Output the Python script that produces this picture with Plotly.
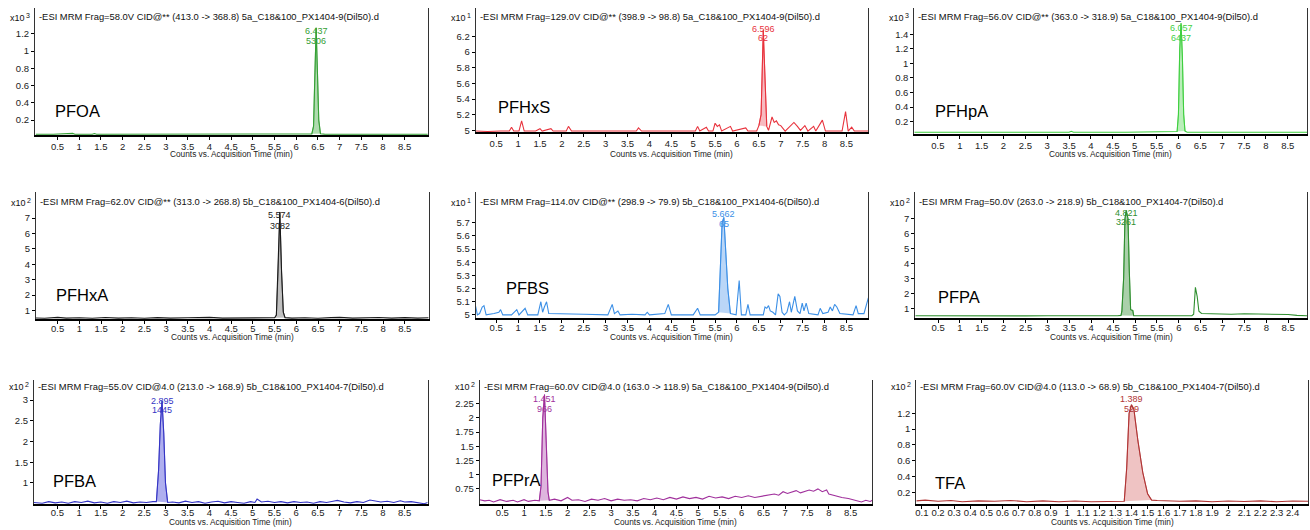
import numpy as np
import plotly.graph_objects as go

W, H = 1310, 530
FONT = "Liberation Sans, Arial, Helvetica, sans-serif"

# ---------------- data ----------------
compounds = ["PFOA", "PFHxS", "PFHpA", "PFHxA", "PFBS", "PFPA", "PFBA", "PFPrA", "TFA"]
headers = [
    "-ESI MRM Frag=58.0V CID@** (413.0 -> 368.8) 5a_C18&100_PX1404-9(Dil50).d",
    "-ESI MRM Frag=129.0V CID@** (398.9 -> 98.8) 5a_C18&100_PX1404-9(Dil50).d",
    "-ESI MRM Frag=56.0V CID@** (363.0 -> 318.9) 5a_C18&100_PX1404-9(Dil50).d",
    "-ESI MRM Frag=62.0V CID@** (313.0 -> 268.8) 5b_C18&100_PX1404-6(Dil50).d",
    "-ESI MRM Frag=114.0V CID@** (298.9 -> 79.9) 5b_C18&100_PX1404-6(Dil50).d",
    "-ESI MRM Frag=50.0V (263.0 -> 218.9) 5b_C18&100_PX1404-7(Dil50).d",
    "-ESI MRM Frag=55.0V CID@4.0 (213.0 -> 168.9) 5b_C18&100_PX1404-7(Dil50).d",
    "-ESI MRM Frag=60.0V CID@4.0 (163.0 -> 118.9) 5a_C18&100_PX1404-9(Dil50).d",
    "-ESI MRM Frag=60.0V CID@4.0 (113.0 -> 68.9) 5b_C18&100_PX1404-7(Dil50).d",
]
rt_labels = ["6.437", "6.596", "6.057", "5.574", "5.662", "4.821", "2.895", "1.451", "1.389"]
area_labels = ["5306", "62", "6437", "3082", "65", "3261", "1445", "966", "529"]
exponents = ["3", "1", "3", "2", "1", "2", "2", "2", "2"]
x_axis_title = "Counts vs. Acquisition Time (min)"

x_ticks_9min = [0.5, 1, 1.5, 2, 2.5, 3, 3.5, 4, 4.5, 5, 5.5, 6, 6.5, 7, 7.5, 8, 8.5]
x_ticks_tfa = [0.1, 0.2, 0.3, 0.4, 0.5, 0.6, 0.7, 0.8, 0.9, 1, 1.1, 1.2, 1.3, 1.4, 1.5,
               1.6, 1.7, 1.8, 1.9, 2, 2.1, 2.2, 2.3, 2.4]

y_ticks_pfoa = [0.2, 0.4, 0.6, 0.8, 1, 1.2]
y_ticks_pfhxs = [5, 5.2, 5.4, 5.6, 5.8, 6, 6.2]
y_ticks_pfhpa = [0.2, 0.4, 0.6, 0.8, 1, 1.2, 1.4]
y_ticks_pfhxa = [1, 2, 3, 4, 5, 6, 7]
y_ticks_pfbs = [5, 5.1, 5.2, 5.3, 5.4, 5.5, 5.6, 5.7]
y_ticks_pfpa = [1, 2, 3, 4, 5, 6, 7]
y_ticks_pfba = [1, 1.5, 2, 2.5, 3]
y_ticks_pfpra = [0.75, 1, 1.25, 1.5, 1.75, 2, 2.25]
y_ticks_tfa = [0.2, 0.4, 0.6, 0.8, 1, 1.2]

# integration windows (min)
windows = [[6.36, 6.56], [6.5, 6.68], [5.97, 6.15], [5.5, 5.74], [5.58, 5.85],
           [4.68, 4.97], [2.78, 3.04], [1.35, 1.58], [1.355, 1.525]]

pfoa_t = [0, 0.4, 0.85, 0.9, 1.3, 1.35, 1.4, 1.8, 1.85, 2.0, 2.05, 2.3, 2.35, 2.8, 3.4, 3.45,
          3.9, 4.4, 4.45, 5.0, 5.5, 5.55, 6.0, 6.25, 6.36, 6.40, 6.43, 6.46, 6.49, 6.52, 6.56,
          6.65, 7.0, 7.5, 7.55, 7.7, 8.0, 8.05, 8.3, 8.7, 9.05]
pfoa_y = [0.035, 0.035, 0.045, 0.035, 0.035, 0.043, 0.035, 0.035, 0.042, 0.035, 0.04, 0.035,
          0.04, 0.035, 0.035, 0.04, 0.035, 0.035, 0.04, 0.035, 0.035, 0.038, 0.035, 0.037,
          0.04, 0.13, 0.75, 1.27, 0.75, 0.2, 0.04, 0.037, 0.035, 0.035, 0.04, 0.035, 0.035,
          0.04, 0.035, 0.04, 0.035]

pfhxs_t = [0.03, 0.3, 0.6, 0.8, 0.85, 0.9, 1.02, 1.08, 1.14, 1.4, 1.5, 1.55, 1.75, 1.8, 2.1,
           2.15, 2.22, 2.6, 3.0, 3.7, 3.75, 3.82, 4.3, 4.8, 5.05, 5.1, 5.15, 5.3, 5.35, 5.45,
           5.5, 5.55, 5.6, 5.65, 5.85, 5.9, 6.2, 6.25, 6.45, 6.5, 6.55, 6.6, 6.64, 6.68, 6.72,
           6.8, 6.85, 6.9, 6.95, 7.0, 7.1, 7.3, 7.38, 7.45, 7.55, 7.62, 7.75, 7.8, 7.95, 8.02,
           8.4, 8.48, 8.54, 8.62, 8.68, 9.0]
pfhxs_y = [4.99, 4.985, 4.99, 4.99, 5.04, 4.99, 4.99, 5.12, 4.99, 4.99, 5.02, 4.99, 5.02,
           4.99, 4.99, 5.05, 4.99, 4.99, 4.99, 4.99, 5.03, 4.99, 4.99, 4.99, 4.99, 5.05, 4.99,
           5.04, 4.99, 4.99, 5.09, 5.05, 5.07, 4.99, 5.05, 4.99, 5.03, 4.99, 4.99, 5.06, 5.2,
           6.28, 5.5, 5.05, 5.0, 5.17, 5.1, 5.12, 5.07, 5.06, 4.99, 5.1, 5.05, 5.0, 5.06, 4.99,
           5.05, 4.99, 5.13, 4.99, 4.99, 5.24, 4.99, 5.04, 4.99, 4.99]

pfhpa_t = [-0.04, 1.0, 2.25, 2.3, 2.35, 3.5, 3.55, 3.6, 4.8, 5.9, 5.97, 6.0, 6.03, 6.06, 6.09,
           6.12, 6.15, 6.2, 7.0, 8.5, 8.55, 8.6, 8.94]
pfhpa_y = [0.055, 0.055, 0.055, 0.065, 0.055, 0.055, 0.067, 0.055, 0.055, 0.055, 0.065, 0.3,
           1.2, 1.55, 1.1, 0.3, 0.07, 0.055, 0.055, 0.055, 0.065, 0.055, 0.055]

pfhxa_t = [0, 0.2, 0.5, 0.7, 1.0, 1.3, 1.6, 1.9, 2.2, 2.5, 2.8, 3.1, 3.5, 4.0, 4.3, 4.7, 5.0,
           5.3, 5.5, 5.54, 5.58, 5.62, 5.66, 5.7, 5.74, 5.9, 6.2, 6.5, 6.8, 7.0, 7.3, 7.6, 7.9,
           8.2, 8.5, 8.8, 9.05]
pfhxa_y = [0.52, 0.5, 0.56, 0.51, 0.53, 0.5, 0.55, 0.51, 0.53, 0.5, 0.54, 0.51, 0.53, 0.56,
           0.51, 0.53, 0.5, 0.53, 0.53, 0.7, 3.5, 7.4, 3.5, 0.9, 0.54, 0.51, 0.53, 0.5, 0.54,
           0.56, 0.51, 0.53, 0.55, 0.51, 0.54, 0.51, 0.53]

pfbs_t = [0.03, 0.07, 0.12, 0.18, 0.22, 0.27, 0.45, 0.56, 0.6, 0.65, 0.85, 0.93, 0.97, 1.02,
          1.1, 1.16, 1.22, 1.45, 1.52, 1.56, 1.6, 1.65, 1.7, 2.0, 2.5, 3.05, 3.1, 3.15, 3.2,
          3.25, 3.28, 3.33, 3.6, 3.9, 3.95, 4.0, 4.35, 4.43, 4.5, 5.0, 5.07, 5.1, 5.16, 5.5,
          5.58, 5.62, 5.66, 5.7, 5.74, 5.79, 5.85, 5.98, 6.05, 6.1, 6.2, 6.25, 6.3, 6.6, 6.64,
          6.68, 6.72, 6.76, 6.82, 6.88, 6.94, 6.98, 7.03, 7.08, 7.14, 7.2, 7.24, 7.32, 7.38,
          7.44, 7.49, 7.53, 7.58, 7.64, 7.85, 7.9, 7.96, 8.08, 8.13, 8.18, 8.23, 8.28, 8.35,
          8.65, 8.72, 8.77, 8.9, 9.0]
pfbs_y = [5.065, 5.0, 5.01, 5.06, 5.07, 5.0, 5.01, 5.02, 5.04, 5.0, 5.0, 5.03, 5.04, 5.0,
          5.03, 5.05, 5.0, 5.0, 5.1, 5.02, 5.06, 5.1, 5.01, 5.01, 5.005, 5.0, 5.04, 5.08, 5.01,
          5.02, 5.03, 5.0, 5.005, 5.0, 5.02, 5.0, 5.01, 5.08, 5.0, 5.0, 5.04, 5.05, 5.0, 5.0,
          5.02, 5.35, 5.7, 5.74, 5.5, 5.2, 5.01, 5.0, 5.26, 5.0, 5.0, 5.08, 5.0, 5.0, 5.06,
          5.05, 5.07, 5.03, 5.02, 5.0, 5.16, 5.14, 5.02, 5.0, 5.02, 5.1, 5.02, 5.14, 5.03,
          5.01, 5.09, 5.03, 5.09, 5.01, 5.0, 5.05, 5.01, 5.02, 5.06, 5.03, 5.08, 5.06, 5.01,
          5.0, 5.07, 5.01, 5.01, 5.13]

pfpa_t = [-0.02, 0.5, 1.0, 1.5, 2.0, 2.5, 3.0, 3.5, 4.0, 4.4, 4.6, 4.68, 4.7, 4.74, 4.77, 4.8,
          4.84, 4.87, 4.9, 4.95, 4.97, 5.2, 5.6, 6.0, 6.3, 6.34, 6.38, 6.42, 6.46, 6.52, 6.8,
          7.0, 7.2, 7.5, 7.7, 7.9, 8.1, 8.3, 8.5, 8.7, 8.93]
pfpa_y = [0.5, 0.49, 0.5, 0.48, 0.5, 0.49, 0.5, 0.49, 0.5, 0.5, 0.5, 0.52, 0.8, 3.0, 7.0, 7.55,
          7.0, 3.5, 0.9, 0.85, 0.5, 0.5, 0.49, 0.5, 0.5, 0.6, 2.4, 1.8, 0.8, 0.65, 0.62, 0.64,
          0.6, 0.63, 0.62, 0.64, 0.6, 0.62, 0.58, 0.52, 0.5]

pfba_t = [-0.04, 0.15, 0.3, 0.45, 0.6, 0.75, 0.9, 1.05, 1.2, 1.35, 1.5, 1.65, 1.8, 1.95, 2.1,
          2.25, 2.4, 2.55, 2.7, 2.78, 2.83, 2.87, 2.91, 2.95, 2.99, 3.04, 3.15, 3.3, 3.45, 3.6,
          3.75, 3.9, 4.05, 4.2, 4.35, 4.5, 4.65, 4.8, 4.95, 5.05, 5.1, 5.2, 5.35, 5.5, 5.65,
          5.8, 5.95, 6.1, 6.25, 6.4, 6.55, 6.7, 6.85, 6.95, 7.1, 7.25, 7.4, 7.55, 7.7, 7.8,
          7.95, 8.1, 8.25, 8.4, 8.5, 8.65, 8.8, 8.95, 9.03]
pfba_y = [0.53, 0.51, 0.55, 0.52, 0.54, 0.51, 0.55, 0.53, 0.56, 0.52, 0.54, 0.51, 0.55, 0.53,
          0.56, 0.52, 0.54, 0.53, 0.55, 0.55, 1.3, 2.4, 2.98, 2.2, 1.0, 0.53, 0.54, 0.52, 0.56,
          0.53, 0.55, 0.51, 0.54, 0.56, 0.52, 0.55, 0.53, 0.51, 0.55, 0.53, 0.61, 0.54, 0.56,
          0.53, 0.55, 0.52, 0.55, 0.53, 0.54, 0.51, 0.55, 0.53, 0.56, 0.58, 0.54, 0.52, 0.55,
          0.53, 0.59, 0.57, 0.54, 0.56, 0.53, 0.57, 0.54, 0.55, 0.52, 0.5, 0.53]

pfpra_t = [-0.02, 0.1, 0.2, 0.3, 0.45, 0.6, 0.75, 0.85, 1.0, 1.1, 1.25, 1.35, 1.39, 1.43, 1.47,
           1.51, 1.55, 1.58, 1.7, 1.85, 2.0, 2.1, 2.25, 2.4, 2.55, 2.7, 2.85, 3.0, 3.15, 3.3,
           3.45, 3.6, 3.75, 3.9, 4.05, 4.2, 4.35, 4.5, 4.65, 4.8, 4.95, 5.1, 5.25, 5.4, 5.55,
           5.7, 5.85, 6.0, 6.15, 6.3, 6.45, 6.6, 6.75, 6.85, 6.95, 7.05, 7.15, 7.25, 7.35, 7.45,
           7.55, 7.65, 7.75, 7.85, 7.95, 8.0, 8.1, 8.2, 8.3, 8.45, 8.55, 8.65, 8.75, 8.85, 8.95,
           9.0]
pfpra_y = [0.56, 0.54, 0.55, 0.52, 0.56, 0.53, 0.55, 0.52, 0.56, 0.53, 0.55, 0.54, 0.8, 2.0,
           2.41, 1.6, 0.7, 0.55, 0.57, 0.54, 0.6, 0.55, 0.56, 0.53, 0.57, 0.55, 0.58, 0.54,
           0.57, 0.55, 0.56, 0.54, 0.58, 0.56, 0.59, 0.56, 0.6, 0.57, 0.61, 0.58, 0.6, 0.57,
           0.62, 0.59, 0.61, 0.58, 0.62, 0.6, 0.63, 0.6, 0.62, 0.63, 0.66, 0.64, 0.7, 0.67,
           0.69, 0.72, 0.68, 0.71, 0.73, 0.71, 0.75, 0.7, 0.73, 0.66, 0.64, 0.61, 0.6, 0.58,
           0.56, 0.54, 0.52, 0.55, 0.53, 0.55]

tfa_t = [0.065, 0.12, 0.2, 0.28, 0.35, 0.45, 0.55, 0.65, 0.75, 0.85, 0.95, 1.05, 1.15, 1.25,
         1.32, 1.355, 1.37, 1.385, 1.40, 1.415, 1.44, 1.47, 1.50, 1.525, 1.56, 1.6, 1.7, 1.8,
         1.9, 2.0, 2.1, 2.2, 2.3, 2.4, 2.495]
tfa_y = [0.09, 0.1, 0.085, 0.095, 0.08, 0.09, 0.085, 0.095, 0.08, 0.09, 0.08, 0.088, 0.08,
         0.085, 0.08, 0.085, 0.5, 1.2, 1.31, 1.25, 0.85, 0.45, 0.18, 0.1, 0.095, 0.09, 0.085,
         0.09, 0.08, 0.088, 0.082, 0.09, 0.08, 0.088, 0.085]

# ---------------- styling / layout (not data) ----------------
line_colors = ["#35a035", "#e8323c", "#3fcf3f", "#1a1a1a", "#3b8fe6", "#2f8f2f", "#3434c4",
               "#a0309c", "#b03434"]
fill_colors = ["rgba(110,190,110,0.55)", "rgba(240,130,140,0.55)", "rgba(130,225,130,0.55)",
               "rgba(150,150,150,0.6)", "rgba(130,180,240,0.55)", "rgba(100,170,100,0.55)",
               "rgba(110,110,225,0.55)", "rgba(195,120,195,0.55)", "rgba(225,145,145,0.55)"]

series = [(pfoa_t, pfoa_y), (pfhxs_t, pfhxs_y), (pfhpa_t, pfhpa_y), (pfhxa_t, pfhxa_y),
          (pfbs_t, pfbs_y), (pfpa_t, pfpa_y), (pfba_t, pfba_y), (pfpra_t, pfpra_y),
          (tfa_t, tfa_y)]
yticks = [y_ticks_pfoa, y_ticks_pfhxs, y_ticks_pfhpa, y_ticks_pfhxa, y_ticks_pfbs,
          y_ticks_pfpa, y_ticks_pfba, y_ticks_pfpra, y_ticks_tfa]
xticks = [x_ticks_9min] * 8 + [x_ticks_tfa]

# pixel boxes: left, right, top, bottom
boxes = [(34, 427, 8, 136), (475, 868, 8, 133), (914, 1307, 8, 135),
         (35, 428, 193, 321), (475, 868, 193, 320), (915, 1307, 193, 320),
         (33, 427, 382, 507), (479, 872, 382, 507), (916, 1308, 382, 507)]
x_ranges = [[-0.02, 9.03], [0.03, 9.0], [-0.04, 8.94], [0.0, 9.05], [0.03, 9.0],
            [-0.02, 8.93], [-0.04, 9.03], [-0.02, 9.0], [0.065, 2.495]]
y_ranges = [[0.024, 1.5], [4.975, 6.565], [0.027, 1.76], [0.44, 8.70], [4.975, 5.934],
            [0.333, 8.8], [0.489, 3.487], [0.482, 2.67], [0.049, 1.625]]
header_y = [16.7, 16.7, 16.7, 203, 203, 203, 388.3, 388.3, 388.3]
label_y = [(31, 41), (29.3, 38.3), (28.3, 38.3), (216.7, 227.3), (215, 225), (214, 223.3),
           (403.3, 412.7), (401.7, 411), (401.7, 411)]
name_pos = [(51.7, 111.7), (495, 108), (933, 111.7), (53, 296.7), (503, 290), (936, 299),
            (50, 484), (489, 483), (933, 485.7)]
title_y = [155, 155, 155, 339, 339, 339, 525, 525, 525]
label_standoff = [-2, -2, -2, -4, -4, -4, -5, -5, -5]


def px(x):
    return x / W


def py(y):
    return 1 - y / H


def fmt(v):
    return ("%g" % v)


fig = go.Figure()
annotations = []
layout_axes = {}

for i in range(9):
    n = i + 1
    xa = "x" if n == 1 else f"x{n}"
    ya = "y" if n == 1 else f"y{n}"
    xkey = "xaxis" if n == 1 else f"xaxis{n}"
    ykey = "yaxis" if n == 1 else f"yaxis{n}"
    l, r, t, b = boxes[i]
    tt = np.array(series[i][0], dtype=float)
    yy = np.array(series[i][1], dtype=float)

    # filled integrated peak
    ws, we = windows[i]
    m = (tt >= ws) & (tt <= we)
    pt, pyv = tt[m], yy[m]
    fig.add_trace(go.Scatter(x=[pt[0], pt[-1]], y=[pyv[0], pyv[-1]], mode="lines",
                             line=dict(width=0, color=line_colors[i]), xaxis=xa, yaxis=ya,
                             hoverinfo="skip", showlegend=False))
    fig.add_trace(go.Scatter(x=pt, y=pyv, mode="lines", fill="tonexty",
                             fillcolor=fill_colors[i],
                             line=dict(width=0.6, color=line_colors[i]), xaxis=xa, yaxis=ya,
                             hoverinfo="skip", showlegend=False))
    # chromatogram
    fig.add_trace(go.Scatter(x=tt, y=yy, mode="lines",
                             line=dict(width=1.1, color=line_colors[i]), xaxis=xa, yaxis=ya,
                             hoverinfo="skip", showlegend=False))

    ytv = list(yticks[i])
    ytt = [fmt(v) for v in ytv]
    layout_axes[xkey] = dict(
        domain=[px(l), px(r)], range=x_ranges[i], anchor=ya,
        tickmode="array", tickvals=xticks[i], ticktext=[fmt(v) for v in xticks[i]],
        ticks="outside", ticklen=3, tickwidth=1, tickcolor="#000",
        ticklabelstandoff=label_standoff[i],
        showline=True, linewidth=2, linecolor="#000", mirror=False,
        showgrid=False, zeroline=False, fixedrange=True,
        tickfont=dict(family=FONT, size=9.5, color="#222"),
    )
    layout_axes[ykey] = dict(
        domain=[py(b), py(t)], range=y_ranges[i], anchor=xa,
        tickmode="array", tickvals=ytv, ticktext=ytt,
        ticks="outside", ticklen=3, tickwidth=1, tickcolor="#000",
        showline=True, linewidth=1, linecolor="#333", mirror=True,
        showgrid=False, zeroline=False, fixedrange=True,
        tickfont=dict(family=FONT, size=9.5, color="#222"),
    )

    # header text inside plot
    annotations.append(dict(text=headers[i], x=px(l + 2), y=py(header_y[i]), xref="paper",
                            yref="paper", xanchor="left", yanchor="middle", showarrow=False,
                            font=dict(family=FONT, size=9.4, color="#111")))
    # multiplier label "x10" + exponent
    annotations.append(dict(text="x10", x=px(l - 8), y=py(header_y[i] + 1), xref="paper",
                            yref="paper", xanchor="right", yanchor="middle", showarrow=False,
                            font=dict(family=FONT, size=9, color="#111")))
    annotations.append(dict(text=exponents[i], x=px(l - 3), y=py(header_y[i] - 1.5),
                            xref="paper", yref="paper", xanchor="right", yanchor="middle",
                            showarrow=False, font=dict(family=FONT, size=7, color="#111")))
    # peak labels over the apex
    apex_t = tt[int(np.argmax(yy))]
    annotations.append(dict(text=rt_labels[i], x=apex_t, y=py(label_y[i][0]), xref=xa,
                            yref="paper", xanchor="center", yanchor="middle", showarrow=False,
                            font=dict(family=FONT, size=9, color=line_colors[i])))
    annotations.append(dict(text=area_labels[i], x=apex_t, y=py(label_y[i][1]), xref=xa,
                            yref="paper", xanchor="center", yanchor="middle", showarrow=False,
                            font=dict(family=FONT, size=9, color=line_colors[i])))
    # compound name
    annotations.append(dict(text=compounds[i], x=px(name_pos[i][0]), y=py(name_pos[i][1]),
                            xref="paper", yref="paper", xanchor="left", yanchor="middle",
                            showarrow=False, font=dict(family=FONT, size=16.5, color="#000")))
    # x axis title
    annotations.append(dict(text=x_axis_title, x=px((l + r) / 2), y=py(title_y[i]),
                            xref="paper", yref="paper", xanchor="center", yanchor="middle",
                            showarrow=False, font=dict(family=FONT, size=8.3, color="#222")))

fig.update_layout(
    width=W, height=H, margin=dict(l=0, r=0, t=0, b=0),
    paper_bgcolor="white", plot_bgcolor="white", showlegend=False, hovermode=False,
    annotations=annotations, **layout_axes,
)

fig.write_html("out.html", config={"displayModeBar": False, "staticPlot": True},
               post_script="document.body.style.margin='0';document.body.style.overflow='hidden';")
